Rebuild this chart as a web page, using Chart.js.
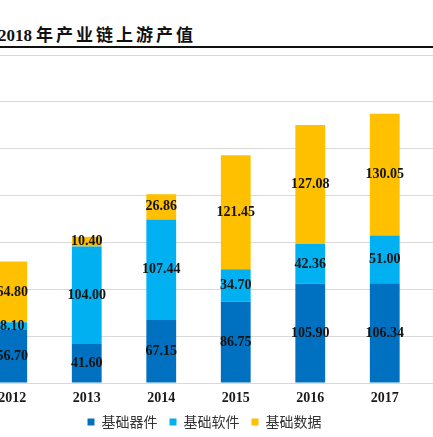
<!DOCTYPE html>
<html>
<head>
<meta charset="utf-8">
<script src="https://cdn.jsdelivr.net/npm/chart.js@4.4.1/dist/chart.umd.min.js"></script>
<style>
  html, body { margin: 0; padding: 0; background: #fff; overflow: hidden; width: 433px; height: 437px; }
  .title {
    position: absolute; left: -2px; top: 21px; white-space: nowrap;
    font: bold 17px "Liberation Serif", "Noto Sans CJK SC", serif; color: #111;
  }
  .title .cn { font-family: "Noto Sans CJK SC", sans-serif; letter-spacing: 3px; margin-left: 4px; }
  .rule { position: absolute; left: 0; top: 46px; width: 433px; height: 2px; background: #111; }
  .box { position: absolute; left: -25px; top: 0; width: 459px; height: 439px; }
</style>
</head>
<body>
<div class="title">2018<span class="cn">年产业链上游产值</span></div>
<div class="rule"></div>
<div class="box"><canvas id="myChart"></canvas></div>
<script>
// data
const categories = ['2012', '2013', '2014', '2015', '2016', '2017']
const seriesNames = ['基础器件', '基础软件', '基础数据']
const basicDevices = [56.70, 41.60, 67.15, 86.75, 105.90, 106.34]
const basicSoftware = [8.10, 104.00, 107.44, 34.70, 42.36, 51.00]
const basicData = [64.80, 10.40, 26.86, 121.45, 127.08, 130.05]
const yMax = 350
const yStep = 50

const colors = ['#0070C0', '#00B0F0', '#FFC000']

// value labels in the middle of each segment
const segmentLabels = {
  id: 'segmentLabels',
  afterDatasetsDraw(chart) {
    const ctx = chart.ctx
    ctx.save()
    ctx.font = 'bold 14px "Liberation Serif", serif'
    ctx.fillStyle = '#141414'
    ctx.textAlign = 'center'
    ctx.textBaseline = 'middle'
    chart.data.datasets.forEach((ds, i) => {
      chart.getDatasetMeta(i).data.forEach((bar, j) => {
        ctx.fillText(ds.data[j].toFixed(2), bar.x, (bar.y + bar.base) / 2)
      })
    })
    ctx.restore()
  }
}

const ctx = document.getElementById('myChart')

new Chart(ctx, {
  type: 'bar',
  data: {
    labels: categories,
    datasets: [
      { label: seriesNames[0], data: basicDevices, backgroundColor: colors[0] },
      { label: seriesNames[1], data: basicSoftware, backgroundColor: colors[1] },
      { label: seriesNames[2], data: basicData, backgroundColor: colors[2] }
    ]
  },
  options: {
    responsive: true,
    maintainAspectRatio: false,
    devicePixelRatio: 1,
    animation: false,
    barPercentage: 0.4,
    categoryPercentage: 1,
    layout: { padding: { top: 55, bottom: 0, left: 0, right: 0 } },
    scales: {
      x: {
        stacked: true,
        grid: { display: false, drawTicks: false },
        border: { display: false },
        afterFit(scale) { scale.height = 20 },
        ticks: {
          padding: 7,
          color: '#1a1a1a',
          font: { family: '"Liberation Serif", serif', size: 14, weight: 'bold' }
        }
      },
      y: {
        stacked: true,
        position: 'right',
        min: 0,
        max: yMax,
        border: { display: false },
        grid: { color: '#d9d9d9', lineWidth: 1, tickLength: 12 },
        ticks: { display: false, stepSize: yStep }
      }
    },
    plugins: {
      tooltip: { enabled: false },
      legend: {
        position: 'bottom',
        labels: {
          boxWidth: 7,
          boxHeight: 7,
          padding: 12,
          color: '#333',
          font: { family: '"Noto Sans CJK SC", sans-serif', size: 14 }
        }
      }
    }
  },
  plugins: [segmentLabels]
})
</script>
</body>
</html>
